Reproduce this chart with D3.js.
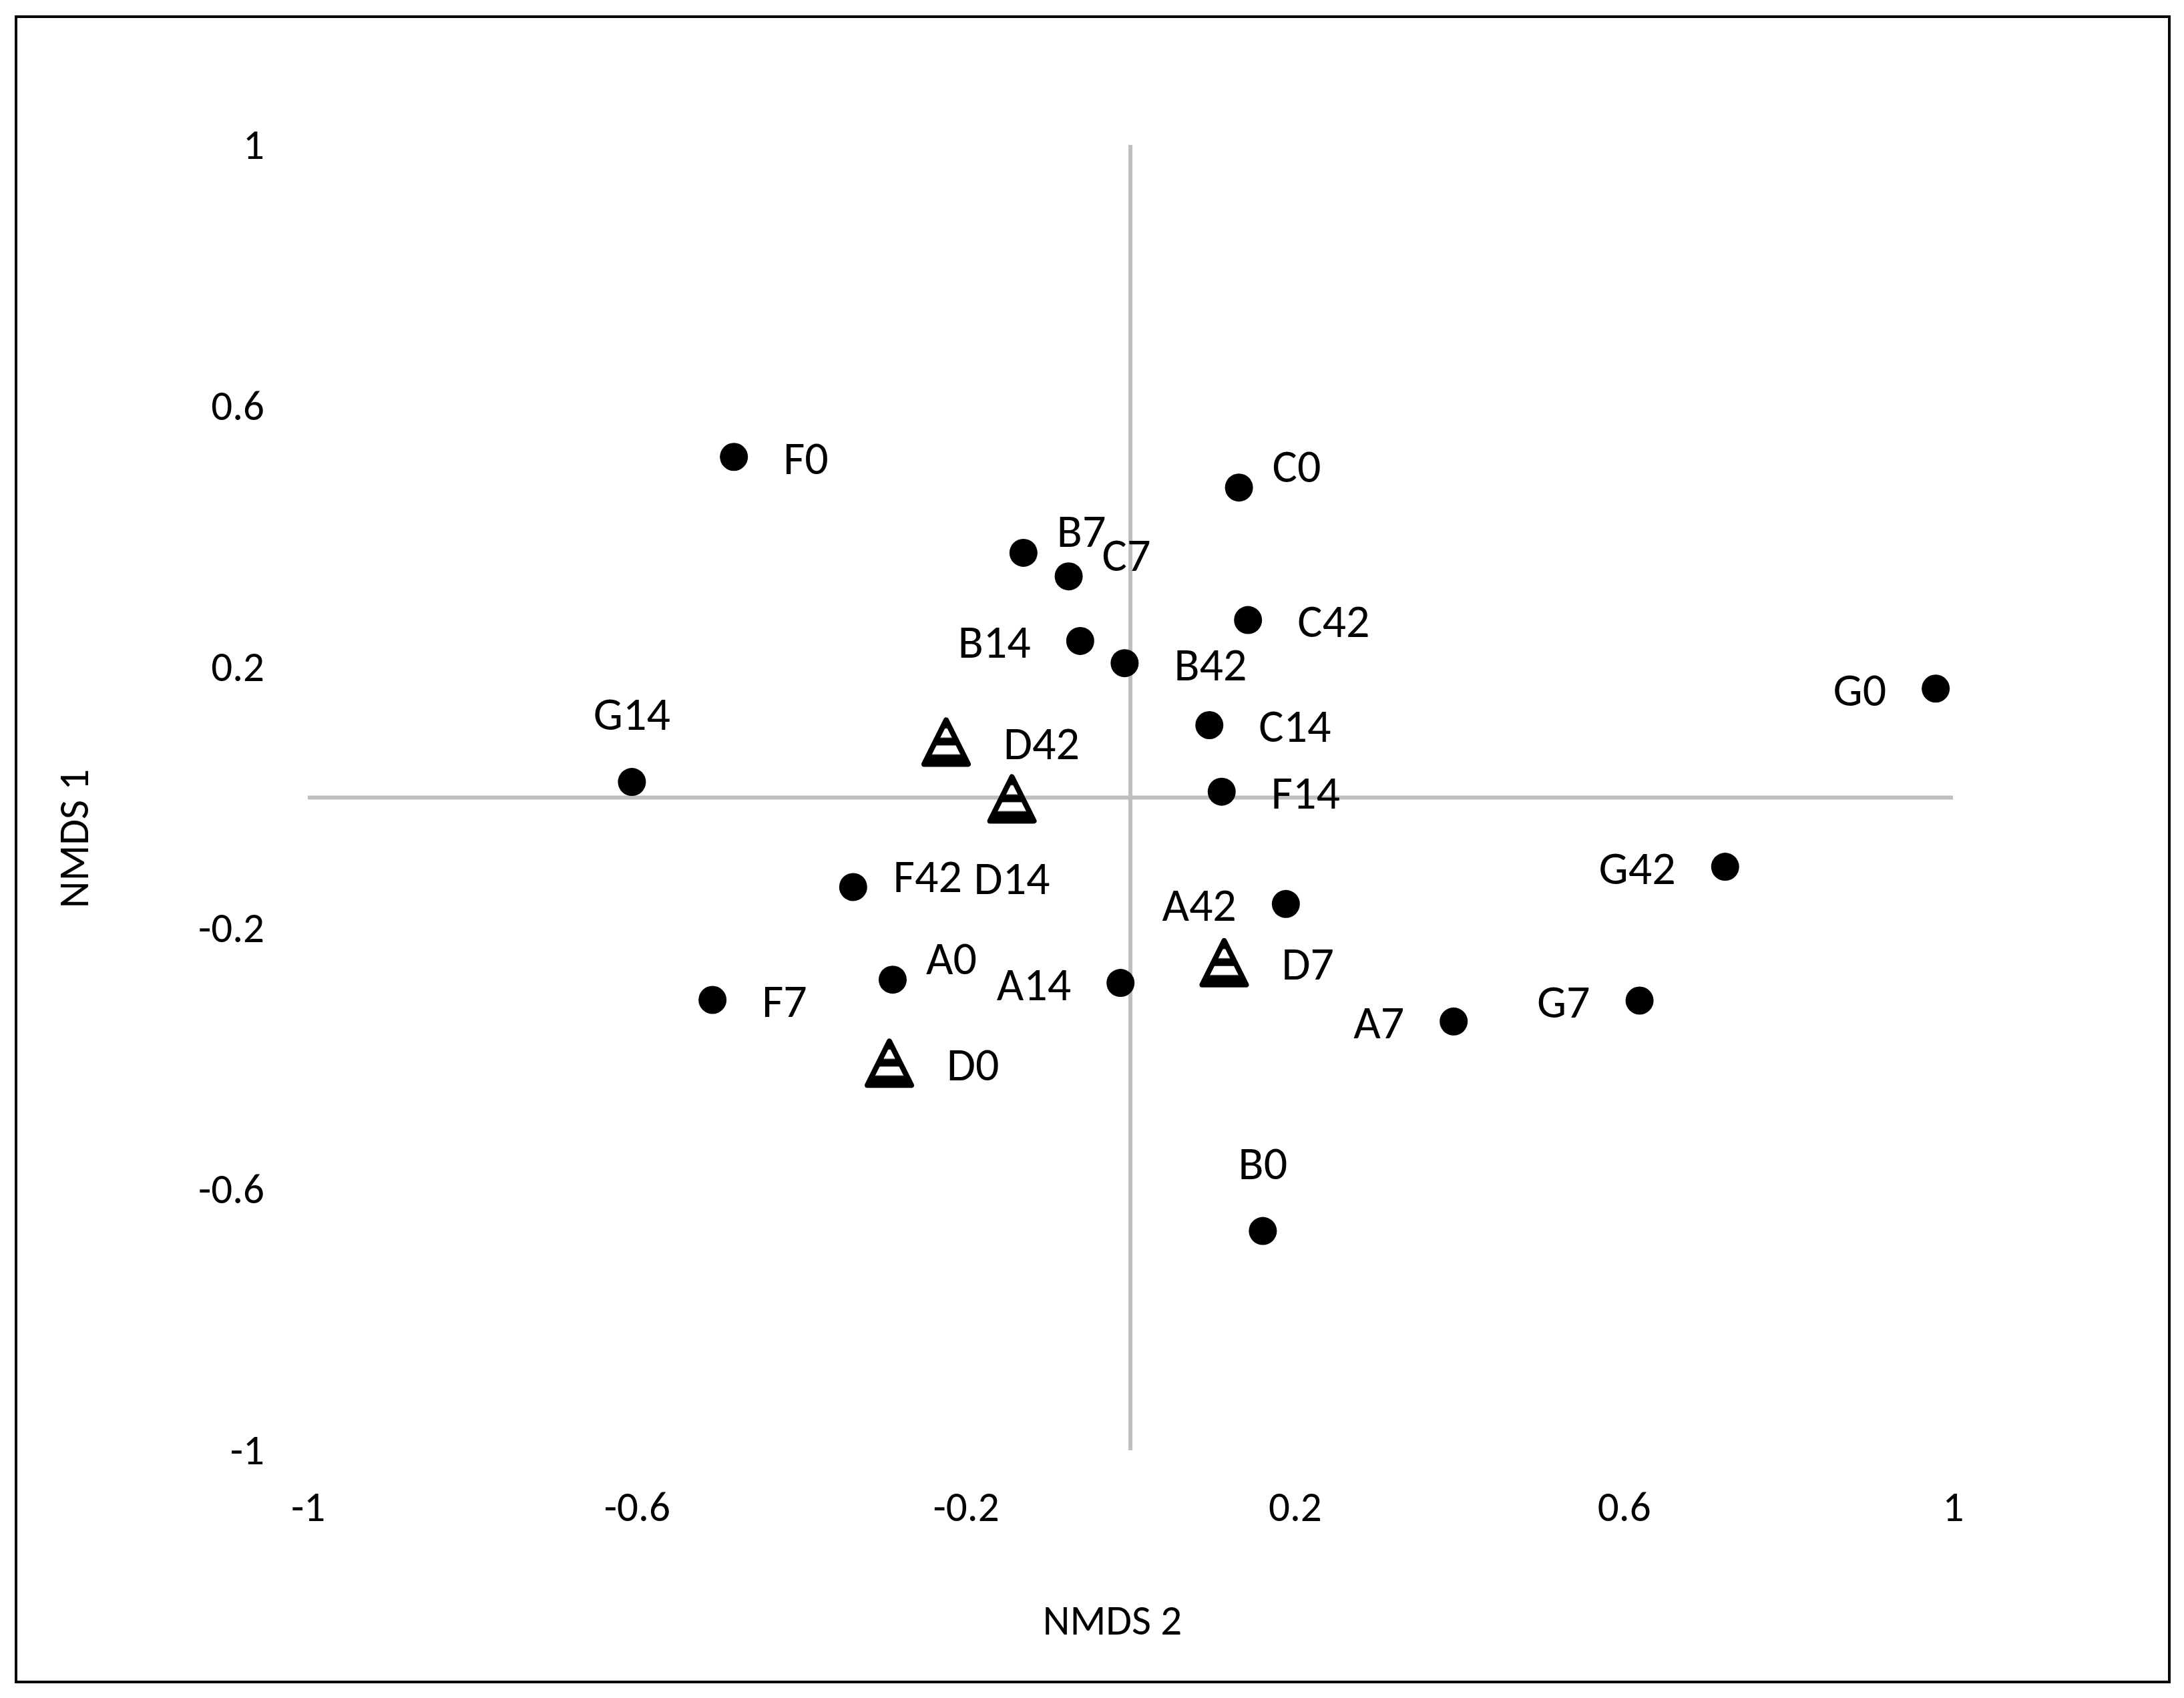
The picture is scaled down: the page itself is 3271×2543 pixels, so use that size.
<!DOCTYPE html>
<html>
<head>
<meta charset="utf-8">
<script src="https://cdn.jsdelivr.net/npm/d3@7"></script>
<style>
  body { margin: 0; background: #fff; }
  text { font-family: Carlito, Calibri, Lato, sans-serif; fill: #000; }
</style>
</head>
<body>
<svg id="chart" width="3271" height="2543"></svg>
<script>
// sample names, NMDS 2 (x) and NMDS 1 (y) scores
var names = ["F0", "C0", "B7", "C7", "C42", "B14", "B42", "C14", "D42", "D14", "F14", "F42",
             "A42", "D7", "A0", "A14", "F7", "D0", "G0", "G42", "A7", "G7", "B0", "G14"];
var nmds2 = [-0.482, 0.132, -0.130, -0.075, 0.143, -0.061, -0.007, 0.096, -0.224, -0.144, 0.111, -0.337,
             0.189, 0.114, -0.289, -0.012, -0.508, -0.293, 0.979, 0.723, 0.393, 0.619, 0.161, -0.606];
var nmds1 = [0.522, 0.475, 0.375, 0.339, 0.272, 0.240, 0.206, 0.111, 0.085, -0.002, 0.009, -0.137,
             -0.163, -0.253, -0.279, -0.284, -0.310, -0.407, 0.167, -0.106, -0.343, -0.311, -0.664, 0.024];
// where each data label sits: r = right, rt = right a bit higher, l = left, t = above, b = below, tr = upper right
var labelSide = ["r", "tr", "tr", "tr", "r", "l", "r", "r", "r", "b", "r", "rt",
                 "l", "r", "tr", "l", "r", "r", "l", "l", "l", "l", "t", "t"];
var ticks = [-1, -0.6, -0.2, 0.2, 0.6, 1];

var svg = d3.select("#chart");

svg.append("rect")
  .attr("x", 24).attr("y", 25)
  .attr("width", 3225).attr("height", 2494)
  .attr("fill", "none").attr("stroke", "#000").attr("stroke-width", 4);

var x = d3.scaleLinear().domain([-1, 1]).range([461, 2925]);
var y = d3.scaleLinear().domain([-1, 1]).range([2172, 217]);

// striped fill for the D triangles
var pat = svg.append("defs").append("pattern")
  .attr("id", "stripes")
  .attr("patternUnits", "objectBoundingBox")
  .attr("patternContentUnits", "objectBoundingBox")
  .attr("width", 1).attr("height", 1);
pat.append("rect").attr("width", 1).attr("height", 1).attr("fill", "#000");
pat.append("rect").attr("y", 0.19).attr("width", 1).attr("height", 0.21).attr("fill", "#fff");
pat.append("rect").attr("y", 0.575).attr("width", 1).attr("height", 0.205).attr("fill", "#fff");

// gray cross through the origin
svg.append("line")
  .attr("x1", x(-1)).attr("x2", x(1)).attr("y1", y(0)).attr("y2", y(0))
  .attr("stroke", "#bfbfbf").attr("stroke-width", 6);
svg.append("line")
  .attr("x1", x(0)).attr("x2", x(0)).attr("y1", y(1)).attr("y2", y(-1))
  .attr("stroke", "#bfbfbf").attr("stroke-width", 6);

// plain hyphen for negatives, like the original
var fmt = function(d) { return String(d); };

var yAxis = svg.append("g")
  .attr("transform", "translate(" + x(-1) + ",0)")
  .call(d3.axisLeft(y).tickValues(ticks).tickSize(0).tickPadding(65).tickFormat(fmt));
var xAxis = svg.append("g")
  .attr("transform", "translate(0," + y(-1) + ")")
  .call(d3.axisBottom(x).tickValues(ticks).tickSize(0).tickFormat(fmt));
[xAxis, yAxis].forEach(function(g) {
  g.select(".domain").remove();
  g.selectAll("text").attr("font-size", 63).attr("font-family", null).attr("fill", "#000");
});
yAxis.selectAll("text").attr("dy", "0.32em");
xAxis.selectAll("text").attr("y", 86).attr("dy", "0.32em");

svg.append("text")
  .attr("x", 1666).attr("y", 2428).attr("dy", "0.32em")
  .attr("text-anchor", "middle").attr("font-size", 63)
  .text("NMDS 2");
svg.append("text")
  .attr("transform", "translate(112,1256) rotate(-90)")
  .attr("dy", "0.32em")
  .attr("text-anchor", "middle").attr("font-size", 63)
  .text("NMDS 1");

var pts = names.map(function(n, i) {
  return { name: n, x: nmds2[i], y: nmds1[i], side: labelSide[i], tri: n.charAt(0) === "D" };
});

svg.selectAll("circle.pt")
  .data(pts.filter(function(d) { return !d.tri; }))
  .enter().append("circle")
  .attr("class", "pt")
  .attr("cx", function(d) { return x(d.x); })
  .attr("cy", function(d) { return y(d.y); })
  .attr("r", 21)
  .attr("fill", "#000");

svg.selectAll("path.tri")
  .data(pts.filter(function(d) { return d.tri; }))
  .enter().append("path")
  .attr("class", "tri")
  .attr("transform", function(d) { return "translate(" + x(d.x) + "," + y(d.y) + ")"; })
  .attr("d", "M0,-33L33,33L-33,33Z")
  .attr("fill", "url(#stripes)")
  .attr("stroke", "#000").attr("stroke-width", 8)
  .attr("stroke-linejoin", "round");

svg.selectAll("text.lbl")
  .data(pts)
  .enter().append("text")
  .attr("class", "lbl")
  .attr("font-size", 70)
  .attr("dy", "0.32em")
  .attr("text-anchor", function(d) {
    return d.side === "l" ? "end" : (d.side === "t" || d.side === "b") ? "middle" : "start";
  })
  .attr("x", function(d) {
    var gap = d.tri ? 86 : 74;
    if (d.side === "r") return x(d.x) + gap;
    if (d.side === "rt") return x(d.x) + 60;
    if (d.side === "l") return x(d.x) - gap;
    if (d.side === "tr") return x(d.x) + 50;
    return x(d.x);
  })
  .attr("y", function(d) {
    if (d.side === "t") return y(d.y) - 100;
    if (d.side === "b") return y(d.y) + 120;
    if (d.side === "tr") return y(d.y) - 31;
    if (d.side === "rt") return y(d.y) - 15;
    return y(d.y) + 3;
  })
  .text(function(d) { return d.name; });
</script>
</body>
</html>
